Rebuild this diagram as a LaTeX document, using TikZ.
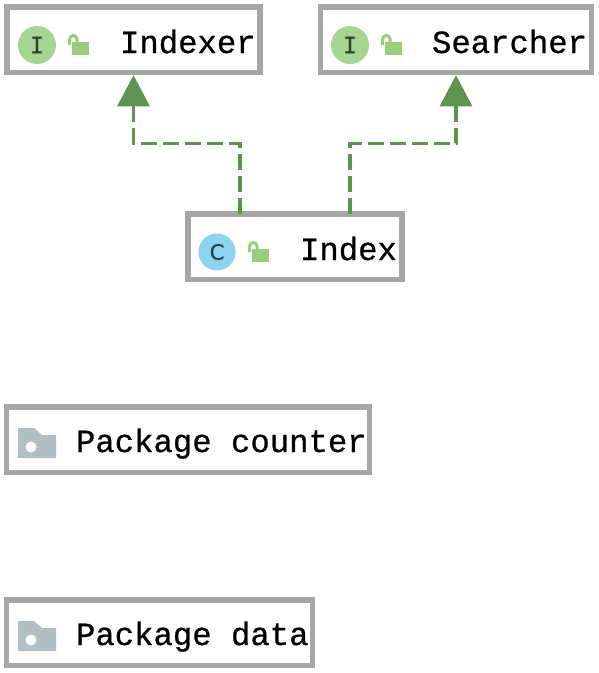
\documentclass[tikz,border=0pt]{standalone}
\usepackage{fontspec}
\setmonofont{Liberation Mono}[RawFeature={embolden=0.7}]
\newfontfamily\slabfont{DejaVu Sans Mono}[RawFeature={embolden=0.6}]
\newfontfamily\kindfont{DejaVu Sans}[RawFeature={embolden=0.6}]
\usetikzlibrary{arrows.meta}
\definecolor{boxgray}{HTML}{A6A6A6}
\definecolor{implgreen}{HTML}{5F9350}
\definecolor{lockgreen}{HTML}{97CF7F}
\definecolor{igreen}{HTML}{A5D591}
\definecolor{cblue}{HTML}{8CD3EE}
\definecolor{foldergray}{HTML}{B0BEC5}
\tikzset{
  umlbox/.style={draw=boxgray,line width=5.5pt,fill=white,inner sep=0pt,outer sep=0pt,minimum height=65.5pt},
  lbl/.style={anchor=base west,inner sep=0pt,outer sep=0pt,font=\ttfamily\fontsize{32.3}{32}\selectfont,text=black},
  kindI/.style={circle,fill=igreen,minimum size=38pt,inner sep=0pt,text=black!70!igreen,font=\slabfont\fontsize{23}{23}\selectfont},
  kindC/.style={circle,fill=cblue,minimum size=37pt,inner sep=0pt,text=black!70!cblue,font=\kindfont\fontsize{21}{21}\selectfont},
  impl/.style={draw=implgreen,line width=3.2pt,dash pattern=on 16pt off 6pt,
    -{Triangle[length=31pt,width=32pt,fill=implgreen,sep=0pt]},shorten >=3pt},
  openlock/.pic={
    \fill[lockgreen] (0,0) rectangle (17,13);
    \draw[lockgreen,line width=3pt] (-2.3,3) -- (-2.3,-2.85) arc[start angle=180,end angle=0,x radius=3.65,y radius=-3.65] -- (5,0);
  },
  folder/.pic={
    \fill[foldergray] (0,0) -- (16,0) -- (24,7) -- (38,7) -- (38,30) -- (0,30) -- cycle;
    \fill[white] (13,19) circle[radius=5.5];
  }
}
\begin{document}
\begin{tikzpicture}[x=1pt,y=-1pt]
\useasboundingbox (0,0) rectangle (599,673);
\fill[white] (0,0) rectangle (599,673);
\node[umlbox,minimum width=253pt] (indexer) at (133.5,39.5) {};
\node[umlbox,minimum width=271pt] (searcher) at (456,39.5) {};
\node[umlbox,minimum width=214pt] (index) at (295,246.5) {};
\node[umlbox,minimum width=363pt] (pkgcounter) at (188,439.5) {};
\node[umlbox,minimum width=306pt] (pkgdata) at (159.5,632.5) {};
\draw[impl] ([xshift=-55pt]index.north) -- ++(0,-70.5) -| (indexer.south);
\draw[impl] ([xshift=55pt]index.north) -- ++(0,-70.5) -| (searcher.south);
\node[kindI] (iconA) at (37,45) {I};
\pic at (72,42) {openlock};
\node[lbl] (labelA) at (120,53) {Indexer};
\node[kindI] (iconB) at (350,45) {I};
\pic at (385,42) {openlock};
\node[lbl] (labelB) at (432,53) {Searcher};
\node[kindC] (iconC) at (217,252) {C};
\pic at (252,249) {openlock};
\node[lbl] (labelC) at (300,260) {Index};
\pic at (18,428) {folder};
\node[lbl] (labelD) at (76,452) {Package counter};
\pic at (18,621) {folder};
\node[lbl] (labelE) at (76,645) {Package data};
\end{tikzpicture}
\end{document}
